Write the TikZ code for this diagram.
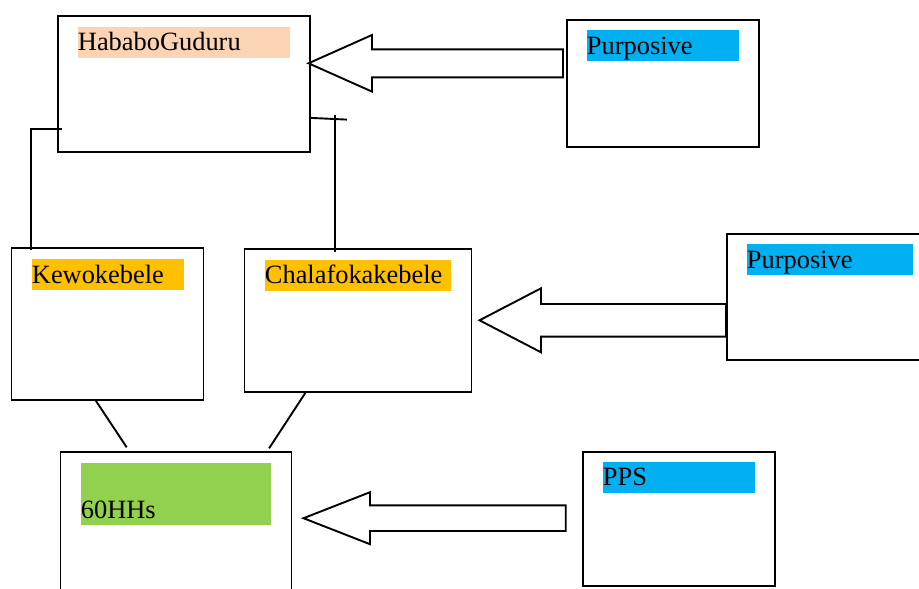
\documentclass[tikz,border=0pt]{standalone}
\usepackage{fontspec}
\setmainfont{Liberation Serif}
\usepackage{tikz}
\newcommand{\fatarrow}[6]% tip x, tip y, head x, tail x, body half, head half
{(#1,#2) -- (#3,#2-#6) -- (#3,#2-#5) -- (#4,#2-#5) -- (#4,#2+#5) -- (#3,#2+#5) -- (#3,#2+#6) -- cycle
}
\usetikzlibrary{positioning}
\definecolor{peach}{HTML}{FBD4B4}
\definecolor{amber}{HTML}{FFC000}
\definecolor{skyblue}{HTML}{00B0F0}
\definecolor{leaf}{HTML}{92D050}

\begin{document}
\begin{tikzpicture}[x=1pt,y=-1pt,line width=1.9pt,
	box/.style={draw, rectangle, inner sep=0pt, anchor=north west},
	tag/.style={fill=#1, inner xsep=0pt, inner ysep=0pt, anchor=north west, align=left,
		text height=24pt, text depth=6.7pt, font=\fontsize{26.4}{31.6}\selectfont}]
	\useasboundingbox (0,0) rectangle (919,589);
	\clip (0,0) rectangle (919,589);
	% boxes
	\node[box, minimum width=252pt, minimum height=136pt] (hababo) at (57,15) {};
	\node[box, minimum width=192pt, minimum height=127pt] (purpa) at (566,18.7) {};
	\node[box, minimum width=192pt, minimum height=152pt] (kewo) at (10.5,247) {};
	\node[box, minimum width=227pt, minimum height=143pt] (chala) at (243.5,248) {};
	\node[box, minimum width=220pt, minimum height=126pt] (purpb) at (726,233) {};
	\node[box, minimum width=231pt, minimum height=160pt] (hh) at (59.5,451) {};
	\node[box, minimum width=192pt, minimum height=134pt] (pps) at (582,451) {};
	% highlighted labels
	\node[tag=peach, text width=212pt] (hababotag) at (77,26) {HababoGuduru};
	\node[tag=skyblue, text width=152pt] (purpatag) at (586,29.3) {Purposive};
	\node[tag=amber, text width=152pt] (kewotag) at (31,258.5) {Kewokebele};
	\node[tag=amber, text width=186pt] (chalatag) at (264,259) {Chalafokakebele};
	\node[tag=skyblue, text width=166pt] (purpbtag) at (746,243.3) {Purposive};
	\node[tag=leaf, text width=190pt, text height=55.6pt] (hhtag) at (80,461.7) {60HHs};
	\node[tag=skyblue, text width=152pt] (ppstag) at (602,461) {PPS};
	% links
	\draw ([xshift=5pt,yshift=23.5pt]hababo.south west) -| ([xshift=20.2pt,yshift=-3pt]kewo.north west);
	\draw ([yshift=35pt]hababo.south east) -- ++(36,1.7);
	\coordinate (hc) at (335,115);
	\draw (hc) -- ([yshift=-4pt]hc |- chala.north);
	\draw ([xshift=-11.5pt]kewo.south) -- ([xshift=67.2pt,yshift=3.7pt]hh.north west);
	\draw ([xshift=-51.7pt,yshift=1.4pt]chala.south) -- ([xshift=-23.3pt,yshift=2.7pt]hh.north east);
	% block arrows
	\draw \fatarrow{308.5}{63.3}{372}{563}{14}{28.3};
	\draw \fatarrow{479.5}{320.3}{541}{726}{16.3}{32};
	\draw \fatarrow{303.5}{518.2}{370}{565.7}{12.8}{26};
\end{tikzpicture}
\end{document}
